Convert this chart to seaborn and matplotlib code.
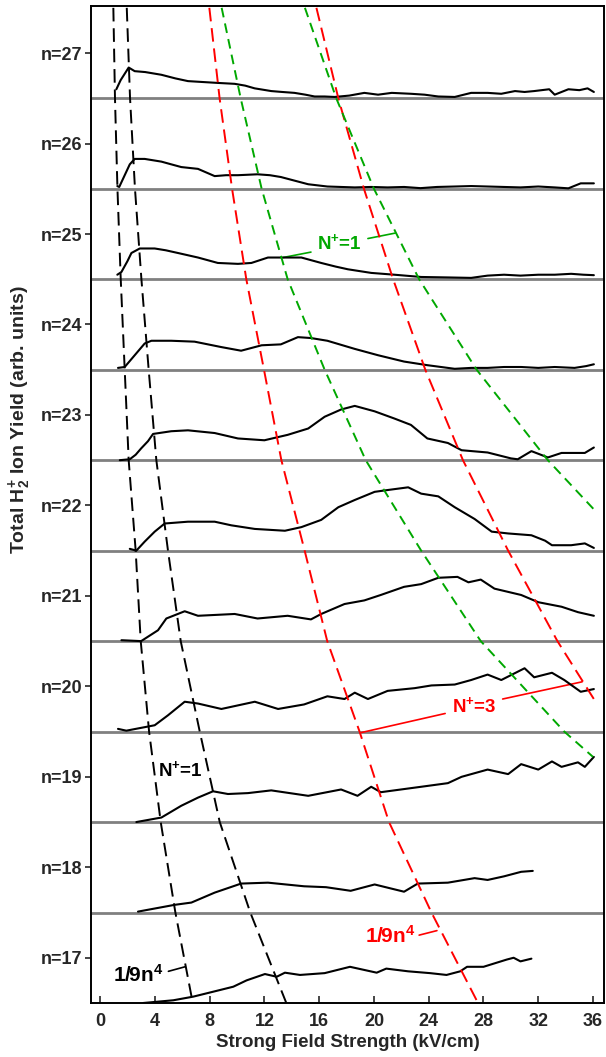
import numpy as np
import pandas as pd
import matplotlib
matplotlib.use('Agg')
import matplotlib.pyplot as plt
import seaborn as sns

# traces: field (kV/cm) and height above the baseline of each n band
x_n27 = [1.19, 1.5, 2.09, 2.53, 3.3, 4.48, 5.5, 6.42, 7.5, 8.6, 9.83, 10.6, 11.29, 12.5, 13.3, 14.2, 15.0, 15.67,
         16.4, 17.13, 18.2, 19.3, 20.3, 21.3, 22.7, 23.7, 24.7, 25.9, 27.1, 28.3, 29.3, 30.3, 31.0, 31.7, 32.8,
         33.2, 34.2, 35.0, 35.6, 36.06]
h_n27 = [0.10, 0.20, 0.34, 0.30, 0.29, 0.26, 0.22, 0.19, 0.18, 0.17, 0.16, 0.14, 0.11, 0.08, 0.07, 0.06, 0.04, 0.02,
         0.02, 0.015, 0.03, 0.06, 0.04, 0.06, 0.05, 0.04, 0.02, 0.015, 0.06, 0.06, 0.05, 0.08, 0.07, 0.08, 0.10,
         0.04, 0.10, 0.09, 0.11, 0.07]

x_n26 = [1.26, 1.4, 1.8, 2.17, 2.53, 3.26, 4.48, 5.2, 5.93, 7.15, 8.37, 9.2, 10.07, 11.5, 12.4, 13.2, 14.2, 15.2,
         16.6, 17.6, 18.6, 19.8, 21.0, 22.2, 23.4, 24.6, 25.9, 27.1, 28.3, 29.5, 30.7, 32.0, 33.2, 34.2, 35.1, 36.06]
h_n26 = [0.03, 0.02, 0.15, 0.27, 0.33, 0.33, 0.30, 0.27, 0.24, 0.22, 0.14, 0.15, 0.15, 0.16, 0.15, 0.13, 0.09, 0.05,
         0.025, 0.02, 0.015, 0.02, 0.015, 0.02, 0.007, 0.02, 0.025, 0.03, 0.025, 0.02, 0.015, 0.025, 0.015, 0.005,
         0.06, 0.06]

x_n25 = [1.26, 1.56, 2.0, 2.29, 2.9, 3.99, 4.8, 5.69, 7.15, 8.6, 10.07, 11.05, 12.26, 13.7, 14.7, 16.15, 17.2, 18.1,
         19.8, 21.5, 23.45, 25.4, 27.1, 28.3, 29.5, 30.7, 32.0, 33.2, 34.4, 35.3, 36.06]
h_n25 = [0.05, 0.08, 0.20, 0.29, 0.34, 0.34, 0.32, 0.29, 0.24, 0.18, 0.17, 0.18, 0.24, 0.24, 0.24, 0.18, 0.14, 0.11,
         0.07, 0.05, 0.025, 0.02, 0.015, 0.04, 0.05, 0.04, 0.05, 0.05, 0.06, 0.05, 0.045]

x_n24 = [1.31, 1.8, 2.53, 3.26, 3.75, 5.2, 6.9, 8.86, 10.3, 11.8, 13.2, 14.45, 15.4, 16.6, 18.6, 20.3, 22.2, 23.9,
         25.9, 27.1, 28.3, 29.5, 30.75, 32.0, 33.2, 34.65, 35.5, 36.06]
h_n24 = [0.02, 0.03, 0.16, 0.29, 0.32, 0.32, 0.31, 0.25, 0.21, 0.27, 0.28, 0.36, 0.35, 0.32, 0.23, 0.16, 0.09, 0.05,
         0.01, 0.02, 0.02, 0.03, 0.03, 0.02, 0.03, 0.02, 0.04, 0.06]

x_n23 = [1.44, 2.17, 2.6, 3.0, 3.5, 3.87, 5.2, 6.42, 8.37, 10.07, 12.0, 13.7, 15.2, 16.4, 17.6, 18.6, 20.05, 21.5,
         22.7, 23.9, 25.4, 26.4, 28.3, 30.0, 30.5, 31.5, 32.7, 33.7, 35.4, 36.06]
h_n23 = [0.0, 0.01, 0.06, 0.13, 0.21, 0.29, 0.32, 0.33, 0.30, 0.24, 0.22, 0.28, 0.35, 0.48, 0.56, 0.60, 0.54, 0.46,
         0.39, 0.24, 0.19, 0.11, 0.085, 0.02, 0.01, 0.10, 0.03, 0.08, 0.08, 0.14]

x_n22 = [2.17, 2.65, 3.26, 3.99, 4.72, 6.42, 8.37, 9.58, 11.3, 13.5, 14.7, 16.15, 17.4, 18.6, 20.05, 21.0, 22.5,
         23.45, 24.7, 25.9, 27.35, 28.6, 29.8, 31.5, 32.5, 33.0, 34.4, 35.4, 36.06]
h_n22 = [0.02, 0.0, 0.10, 0.21, 0.30, 0.32, 0.32, 0.28, 0.24, 0.22, 0.26, 0.34, 0.48, 0.56, 0.65, 0.67, 0.70,
         0.63, 0.60, 0.48, 0.35, 0.21, 0.19, 0.17, 0.11, 0.06, 0.06, 0.08, 0.03]

x_n21 = [1.56, 3.0, 4.23, 4.84, 6.18, 7.15, 9.83, 11.5, 13.7, 15.4, 16.15, 17.85, 19.3, 20.5, 22.2, 23.45, 24.7,
         26.1, 26.9, 27.8, 28.8, 30.75, 32.0, 33.7, 34.9, 36.06]
h_n21 = [0.01, 0.0, 0.12, 0.25, 0.33, 0.28, 0.30, 0.25, 0.28, 0.24, 0.30, 0.41, 0.45, 0.51, 0.60, 0.63, 0.70,
         0.71, 0.65, 0.68, 0.58, 0.51, 0.43, 0.38, 0.32, 0.28]

x_n20 = [1.31, 1.92, 3.99, 4.96, 6.18, 7.15, 8.86, 11.3, 13.0, 14.9, 16.6, 17.85, 18.6, 19.56, 21.0, 22.97, 24.2,
         25.9, 27.1, 28.3, 29.3, 31.0, 31.7, 33.0, 33.9, 35.1, 36.06]
h_n20 = [0.03, 0.01, 0.07, 0.18, 0.33, 0.31, 0.25, 0.33, 0.25, 0.30, 0.39, 0.36, 0.43, 0.36, 0.45, 0.48, 0.51,
         0.52, 0.57, 0.63, 0.57, 0.70, 0.60, 0.65, 0.57, 0.44, 0.47]

x_n19 = [2.65, 4.48, 5.93, 7.15, 8.25, 9.34, 10.8, 12.5, 15.2, 17.6, 18.8, 19.8, 20.5, 23.45, 25.4, 26.4, 28.3,
         29.8, 30.75, 32.0, 33.0, 33.7, 34.9, 35.4, 36.06]
h_n19 = [0.0, 0.05, 0.18, 0.27, 0.34, 0.31, 0.32, 0.35, 0.29, 0.36, 0.29, 0.39, 0.33, 0.39, 0.43, 0.50, 0.58,
         0.53, 0.64, 0.58, 0.67, 0.61, 0.66, 0.61, 0.72]

x_n18 = [2.77, 5.45, 6.67, 8.37, 10.3, 12.26, 14.9, 16.5, 18.3, 20.05, 22.2, 23.2, 25.4, 27.35, 28.3, 29.5, 30.75, 31.6]
h_n18 = [0.01, 0.085, 0.11, 0.22, 0.32, 0.33, 0.29, 0.28, 0.24, 0.31, 0.23, 0.32, 0.33, 0.38, 0.36, 0.40, 0.45, 0.46]

x_n17 = [3.16, 5.35, 6.8, 8.27, 9.73, 10.7, 12.04, 12.9, 13.5, 14.6, 16.4, 18.25, 20.2, 20.9, 22.5, 24.1, 25.3,
         26.3, 26.8, 28.0, 29.7, 30.2, 30.7, 31.5]
h_n17 = [0.0, 0.03, 0.07, 0.125, 0.18, 0.25, 0.32, 0.29, 0.335, 0.31, 0.33, 0.40, 0.335, 0.38, 0.35, 0.33, 0.31,
         0.35, 0.40, 0.40, 0.48, 0.50, 0.46, 0.49]

n_levels = [17, 18, 19, 20, 21, 22, 23, 24, 25, 26, 27]
trace_x = [x_n17, x_n18, x_n19, x_n20, x_n21, x_n22, x_n23, x_n24, x_n25, x_n26, x_n27]
trace_h = [h_n17, h_n18, h_n19, h_n20, h_n21, h_n22, h_n23, h_n24, h_n25, h_n26, h_n27]

# 1/9n^4 type curves, x read at each band edge (top of axes down to 16.5)
curve_y = [27.5, 26.5, 25.5, 24.5, 23.5, 22.5, 21.5, 20.5, 19.5, 18.5, 17.5, 16.5]
black_in_x = [0.97, 1.09, 1.27, 1.51, 1.80, 2.09, 2.6, 2.97, 3.58, 4.43, 5.5, 6.77]
black_out_x = [1.95, 2.19, 2.55, 3.02, 3.55, 4.11, 4.96, 5.89, 7.28, 8.74, 10.97, 13.6]
red_in_x = [7.98, 8.73, 9.64, 10.68, 11.97, 13.24, 14.94, 16.59, 18.95, 21.1, 24.2, 27.6]
red_out_x = [15.8, 17.4, 19.27, 21.4, 23.75, 26.5, 29.8, 33.4, 36.1]
red_out_y = [27.5, 26.5, 25.5, 24.5, 23.5, 22.5, 21.5, 20.5, 19.85]
green_in_x = [8.88, 10.27, 11.8, 13.7, 16.4, 19.4, 23.45, 27.8, 33.9, 36.0]
green_in_y = [27.5, 26.5, 25.5, 24.5, 23.5, 22.5, 21.5, 20.5, 19.5, 19.22]
green_out_x = [14.96, 17.25, 20.0, 23.3, 27.5, 32.7, 36.1]
green_out_y = [27.5, 26.5, 25.5, 24.5, 23.5, 22.5, 21.95]

RED = '#ff0000'
GREEN = '#00a800'

sns.set_style('ticks')
plt.rcParams['font.family'] = ['Liberation Sans', 'DejaVu Sans']
plt.rcParams['font.weight'] = 'bold'
plt.rcParams['axes.labelweight'] = 'bold'
plt.rcParams['mathtext.fontset'] = 'custom'
plt.rcParams['mathtext.rm'] = 'Liberation Sans:bold'
plt.rcParams['mathtext.bf'] = 'Liberation Sans:bold'
plt.rcParams['mathtext.it'] = 'Liberation Sans:bold'
plt.rcParams['mathtext.default'] = 'bf'

rows = []
for n, xs, hs in zip(n_levels, trace_x, trace_h):
    for xv, hv in zip(xs, hs):
        rows.append({'n': n, 'field': xv, 'signal': n - 0.5 + hv})
df = pd.DataFrame(rows)

fig = plt.figure(figsize=(6.06, 10.57), dpi=100)
ax = fig.add_axes([0.1502, 0.0511, 0.8465, 0.9432])

for n in n_levels[1:]:
    ax.axhline(n - 0.5, color='#808080', lw=2, zorder=1)

sns.lineplot(data=df, x='field', y='signal', units='n', estimator=None, sort=False,
             color='black', lw=1.5, ax=ax, zorder=3)

dash = (0, (7, 3.5))
gdash = (0, (5, 3.2))
ax.plot(black_in_x, curve_y, color='black', lw=1.4, ls=dash, zorder=4)
ax.plot(black_out_x, curve_y, color='black', lw=1.4, ls=dash, zorder=4)
ax.plot(red_in_x, curve_y, color=RED, lw=1.4, ls=dash, zorder=4)
ax.plot(red_out_x, red_out_y, color=RED, lw=1.4, ls=dash, zorder=4)
ax.plot(green_in_x, green_in_y, color=GREEN, lw=1.4, ls=gdash, zorder=4)
ax.plot(green_out_x, green_out_y, color=GREEN, lw=1.4, ls=gdash, zorder=4)

# labels and leader lines
ax.text(17.5, 24.90, r'N$^{+}$=1', color=GREEN, fontsize=13.5, ha='center', va='center')
ax.plot([15.4, 13.36], [24.80, 24.74], color=GREEN, lw=1.2)
ax.plot([19.56, 21.55], [24.95, 25.01], color=GREEN, lw=1.2)

ax.text(27.3, 19.78, r'N$^{+}$=3', color=RED, fontsize=13.5, ha='center', va='center')
ax.plot([25.2, 19.1], [19.70, 19.49], color=RED, lw=1.2)
ax.plot([29.4, 35.2], [19.86, 20.05], color=RED, lw=1.2)

ax.text(5.84, 19.08, r'N$^{+}$=1', color='black', fontsize=13.5, ha='center', va='center')

ax.text(2.77, 16.81, r'1/9n$^{4}$', color='black', fontsize=15, ha='center', va='center')
ax.plot([4.99, 6.2], [16.85, 16.90], color='black', lw=1.2)

ax.text(21.2, 17.24, r'1/9n$^{4}$', color=RED, fontsize=15, ha='center', va='center')
ax.plot([23.3, 24.6], [17.25, 17.30], color=RED, lw=1.2)

ax.set_xlim(-0.66, 36.8)
ax.set_ylim(16.5, 27.52)
ax.set_xticks(range(0, 37, 4))
ax.set_yticks(n_levels)
ax.set_yticklabels([f'n={n}' for n in n_levels])
ax.tick_params(axis='x', direction='in', length=5, width=1.2, pad=7, labelsize=13)
ax.tick_params(axis='y', direction='out', length=4, width=1.2, pad=2, labelsize=13)
for s in ax.spines.values():
    s.set_visible(True)
    s.set_linewidth(1.4)
    s.set_color('black')

ax.set_xlabel('Strong Field Strength (kV/cm)', fontsize=13.5, fontweight='bold', labelpad=3)
ax.set_ylabel(r'Total H$_{2}^{+}$ Ion Yield (arb. units)', fontsize=14, fontweight='bold')
ax.yaxis.set_label_coords(-0.113, 0.585)

fig.savefig('out.png', dpi=100)
